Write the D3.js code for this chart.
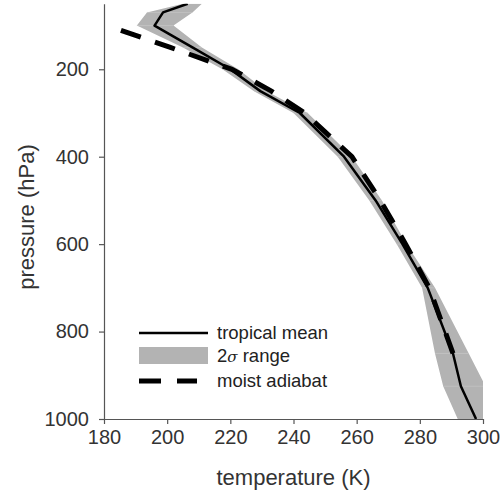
<!DOCTYPE html>
<html>
<head>
<meta charset="utf-8">
<script src="https://cdn.jsdelivr.net/npm/d3@7"></script>
<style>
  body { margin: 0; background: #fff; }
  svg { display: block; font-family: "Liberation Sans", Arial, sans-serif; }
  .axis path, .axis line { stroke: #555; stroke-width: 1.2; }
  .axis text { fill: #333; font-size: 20px; font-family: "Liberation Sans", Arial, sans-serif; }
</style>
</head>
<body>
<div id="chart"></div>
<script>
// pressure levels (hPa)
var levels = [1000, 925, 850, 700, 600, 500, 400, 300, 250, 200, 150, 100, 70, 50]
var meanT  = [297.8, 293, 290.5, 282.5, 274.5, 266, 256, 242, 229.5, 220, 208, 196, 198.7, 206.5]
var lowT   = [292, 287.4, 284.8, 280.7, 272.7, 264, 254, 240, 227.5, 217.5, 205, 190.4, 193.6, 205]
var highT  = [302, 300.8, 295.5, 284.8, 275.8, 268, 258.5, 244.5, 231.5, 222.5, 211, 202, 208, 211]

// moist adiabat
var adiabatP = [850, 700, 600, 500, 400, 300, 250, 200, 150, 100]
var adiabatT = [290.5, 283, 275.5, 267.5, 258.5, 243.5, 233, 220.5, 201, 181]

var xTicks = [180, 200, 220, 240, 260, 280, 300]
var yTicks = [200, 400, 600, 800, 1000]

var W = 500, H = 497
var margin = { left: 104, right: 17, top: 3.7, bottom: 78 }
var width = W - margin.left - margin.right,
    height = H - margin.top - margin.bottom

var svg = d3.select("#chart")
    .append("svg")
        .attr("width", W)
        .attr("height", H)

var g = svg.append("g")
    .attr("transform", "translate(" + margin.left + "," + margin.top + ")")

var x = d3.scaleLinear().domain([180, 300]).range([0, width])
var y = d3.scaleLinear().domain([50, 1000]).range([0, height])

g.append("clipPath").attr("id", "plotClip")
    .append("rect")
        .attr("x", 0).attr("y", 0)
        .attr("width", width).attr("height", height)

var plot = g.append("g").attr("clip-path", "url(#plotClip)")

var rows = levels.map(function(p, i){
    return { p: p, mean: meanT[i], lo: lowT[i], hi: highT[i] }
})

// 2 sigma band
plot.append("path")
    .datum(rows)
    .attr("fill", "#b3b3b3")
    .attr("d", d3.area()
        .y(function(d){ return y(d.p) })
        .x0(function(d){ return x(d.lo) })
        .x1(function(d){ return x(d.hi) })
    )

// faint level edges inside the band
plot.selectAll(".bandEdge")
    .data(rows.slice(1, -1))
    .enter().append("line")
        .attr("class", "bandEdge")
        .attr("x1", function(d){ return x(d.lo) })
        .attr("x2", function(d){ return x(d.hi) })
        .attr("y1", function(d){ return y(d.p) })
        .attr("y2", function(d){ return y(d.p) })
        .attr("stroke", "#c9c9c9")
        .attr("stroke-width", 0.6)

// moist adiabat
var adiabat = adiabatP.map(function(p, i){ return { p: p, t: adiabatT[i] } })
plot.append("path")
    .datum(adiabat)
    .attr("fill", "none")
    .attr("stroke", "#000")
    .attr("stroke-width", 5)
    .attr("stroke-dasharray", "21,15")
    .attr("d", d3.line()
        .x(function(d){ return x(d.t) })
        .y(function(d){ return y(d.p) })
    )

// tropical mean
plot.append("path")
    .datum(rows)
    .attr("fill", "none")
    .attr("stroke", "#000")
    .attr("stroke-width", 2.5)
    .attr("stroke-linejoin", "round")
    .attr("d", d3.line()
        .x(function(d){ return x(d.mean) })
        .y(function(d){ return y(d.p) })
    )

// axes
var xAxis = d3.axisBottom(x).tickValues(xTicks).tickSize(5).tickSizeOuter(0).tickPadding(6)
var yAxis = d3.axisLeft(y).tickValues(yTicks).tickFormat(d3.format("d"))
    .tickSize(5).tickSizeOuter(0).tickPadding(10)

g.append("g")
    .attr("class", "axis")
    .attr("transform", "translate(0," + height + ")")
    .call(xAxis)

g.append("g")
    .attr("class", "axis")
    .call(yAxis)

g.append("text")
    .attr("x", width / 2)
    .attr("y", height + 66)
    .attr("text-anchor", "middle")
    .attr("fill", "#333")
    .attr("font-size", "22px")
    .text("temperature (K)")

g.append("text")
    .attr("transform", "translate(" + (34 - margin.left) + "," + (217 - margin.top) + ") rotate(-90)")
    .attr("text-anchor", "middle")
    .attr("fill", "#333")
    .attr("font-size", "22px")
    .text("pressure (hPa)")

// legend
var legend = svg.append("g")
    .attr("transform", "translate(139,333)")

legend.append("line")
    .attr("x1", 0).attr("x2", 69)
    .attr("y1", 0).attr("y2", 0)
    .attr("stroke", "#000")
    .attr("stroke-width", 2.5)

legend.append("rect")
    .attr("x", 0).attr("y", 14)
    .attr("width", 69).attr("height", 17)
    .attr("fill", "#b3b3b3")

legend.append("line")
    .attr("x1", 0).attr("x2", 58)
    .attr("y1", 48).attr("y2", 48)
    .attr("stroke", "#000")
    .attr("stroke-width", 5)
    .attr("stroke-dasharray", "22,16")

var legendText = legend.append("g")
    .attr("font-size", "18.5px")
    .attr("fill", "#222")

legendText.append("text")
    .attr("x", 78).attr("y", 0).attr("dy", "0.35em")
    .text("tropical mean")

var sig = legendText.append("text")
    .attr("x", 78).attr("y", 22.5).attr("dy", "0.35em")
sig.append("tspan").text("2")
sig.append("tspan").attr("font-style", "italic").attr("font-family", "'DejaVu Serif', serif").attr("font-size", "15px").text("σ")
sig.append("tspan").text(" range")

legendText.append("text")
    .attr("x", 78).attr("y", 48).attr("dy", "0.35em")
    .text("moist adiabat")
</script>
</body>
</html>
